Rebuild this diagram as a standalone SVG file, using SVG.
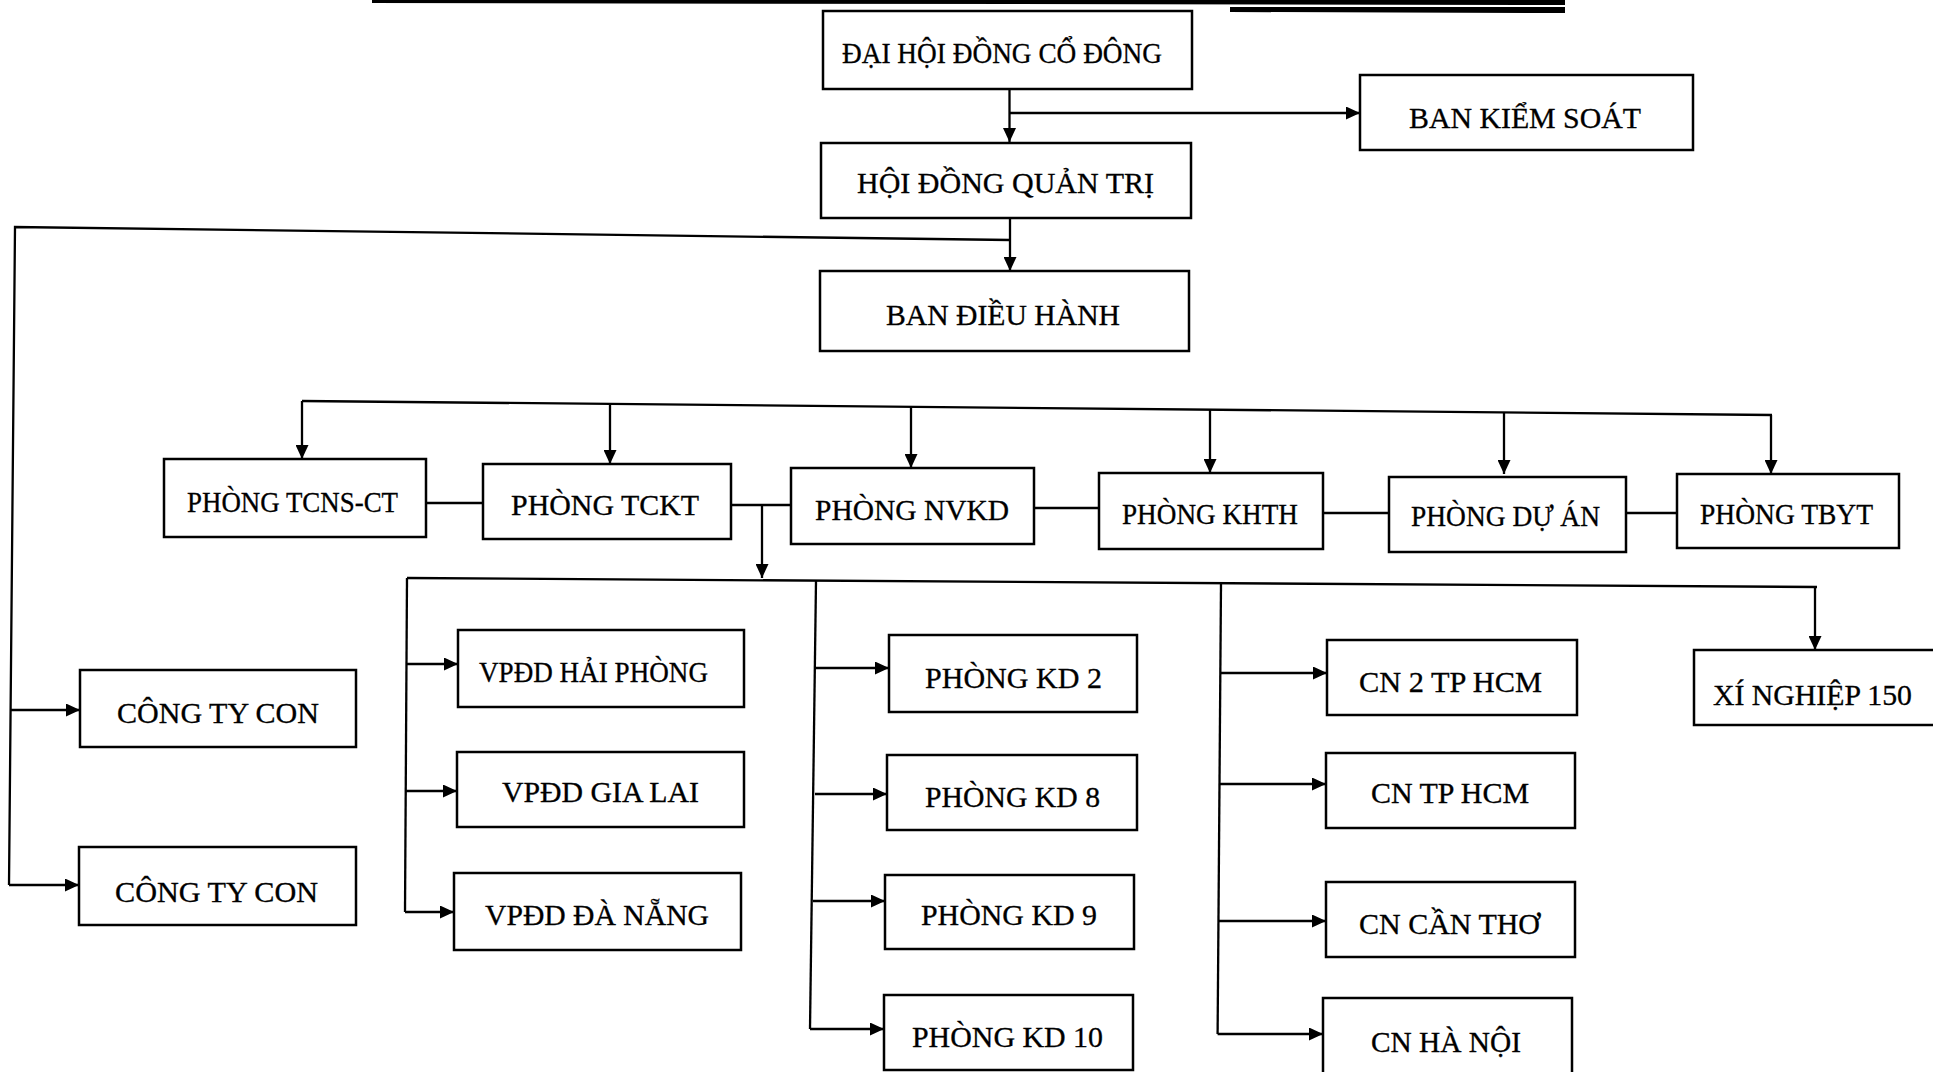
<svg xmlns="http://www.w3.org/2000/svg" width="1933" height="1072" viewBox="0 0 1933 1072">
<style>
.box{fill:#fff;stroke:#000;stroke-width:2.5}
.lbl{font-family:"Liberation Serif","DejaVu Serif",serif;font-size:29px;fill:#000;stroke:#000;stroke-width:0.3}
.big{font-size:30px}
.conn path{fill:none;stroke:#000;stroke-width:2.3}
.arr{marker-end:url(#ah)}
</style>
<defs>
<marker id="ah" viewBox="0 0 14 13" refX="14" refY="6.5" markerWidth="14" markerHeight="13" markerUnits="userSpaceOnUse" orient="auto">
<path d="M0,0 L14,6.5 L0,13 z" fill="#000"/>
</marker>
</defs>
<rect width="1933" height="1072" fill="#fff"/>
<g id="header">
<polygon points="372,0 1565,0 1565,5 372,3" fill="#000"/>
<polygon points="1230,7 1565,7 1565,13 1230,12" fill="#000"/>
</g>
<g class="conn">
<path class="arr" d="M1009.5,89 V142"/>
<path class="arr" d="M1009.5,113 H1360"/>
<path class="arr" d="M1010,218 V271"/>
<path d="M1010,240 L15,227 L9,885"/>
<path class="arr" d="M11,710 H80"/>
<path class="arr" d="M9,885 H79"/>
<path d="M302,401 L1772,415"/>
<path class="arr" d="M302,401 V459"/>
<path class="arr" d="M610,404 V464"/>
<path class="arr" d="M911,407 V468"/>
<path class="arr" d="M1210,410 V473"/>
<path class="arr" d="M1504,413 V474"/>
<path class="arr" d="M1771,415 V474"/>
<path d="M426,503 H483"/>
<path d="M731,505 H791"/>
<path d="M1034,508 H1099"/>
<path d="M1323,513 H1389"/>
<path d="M1626,513 H1677"/>
<path class="arr" d="M762,505 V578"/>
<path d="M407,578 L1817,587"/>
<path d="M407,578 L405,912"/>
<path class="arr" d="M407,664 H458"/>
<path class="arr" d="M406,791 H457"/>
<path class="arr" d="M405,912 H454"/>
<path d="M816,581 L810,1029"/>
<path class="arr" d="M816,668 H889"/>
<path class="arr" d="M815,794 H887"/>
<path class="arr" d="M813,901 H885"/>
<path class="arr" d="M810,1029 H884"/>
<path d="M1221,584 L1217.6,1034"/>
<path class="arr" d="M1221,673 H1327"/>
<path class="arr" d="M1220,784 H1326"/>
<path class="arr" d="M1219,921 H1326"/>
<path class="arr" d="M1217.6,1034 H1323"/>
<path class="arr" d="M1815,587 V650"/>
</g>
<g id="n-dhdcd"><rect class="box" x="823" y="11" width="369" height="78"/><text class="lbl big" x="842" y="63" textLength="320" lengthAdjust="spacingAndGlyphs">ĐẠI HỘI ĐỒNG CỔ ĐÔNG</text></g>
<g id="n-bks"><rect class="box" x="1360" y="75" width="333" height="75"/><text class="lbl big" x="1409" y="128" textLength="232" lengthAdjust="spacingAndGlyphs">BAN KIỂM SOÁT</text></g>
<g id="n-hdqt"><rect class="box" x="821" y="143" width="370" height="75"/><text class="lbl big" x="857" y="193" textLength="297" lengthAdjust="spacingAndGlyphs">HỘI ĐỒNG QUẢN TRỊ</text></g>
<g id="n-bdh"><rect class="box" x="820" y="271" width="369" height="80"/><text class="lbl big" x="886" y="325" textLength="234" lengthAdjust="spacingAndGlyphs">BAN ĐIỀU HÀNH</text></g>
<g id="n-tcns"><rect class="box" x="164" y="459" width="262" height="78"/><text class="lbl" x="187" y="512" textLength="211" lengthAdjust="spacingAndGlyphs">PHÒNG TCNS-CT</text></g>
<g id="n-tckt"><rect class="box" x="483" y="464" width="248" height="75"/><text class="lbl" x="511" y="515" textLength="188" lengthAdjust="spacingAndGlyphs">PHÒNG TCKT</text></g>
<g id="n-nvkd"><rect class="box" x="791" y="468" width="243" height="76"/><text class="lbl" x="815" y="520" textLength="194" lengthAdjust="spacingAndGlyphs">PHÒNG NVKD</text></g>
<g id="n-khth"><rect class="box" x="1099" y="473" width="224" height="76"/><text class="lbl" x="1122" y="524" textLength="176" lengthAdjust="spacingAndGlyphs">PHÒNG KHTH</text></g>
<g id="n-duan"><rect class="box" x="1389" y="477" width="237" height="75"/><text class="lbl" x="1411" y="526" textLength="189" lengthAdjust="spacingAndGlyphs">PHÒNG DỰ ÁN</text></g>
<g id="n-tbyt"><rect class="box" x="1677" y="474" width="222" height="74"/><text class="lbl" x="1700" y="524" textLength="173" lengthAdjust="spacingAndGlyphs">PHÒNG TBYT</text></g>
<g id="n-ctc1"><rect class="box" x="80" y="670" width="276" height="77"/><text class="lbl" x="117" y="723" textLength="202" lengthAdjust="spacingAndGlyphs">CÔNG TY CON</text></g>
<g id="n-ctc2"><rect class="box" x="79" y="847" width="277" height="78"/><text class="lbl" x="115" y="902" textLength="203" lengthAdjust="spacingAndGlyphs">CÔNG TY CON</text></g>
<g id="n-vphp"><rect class="box" x="458" y="630" width="286" height="77"/><text class="lbl" x="479" y="682" textLength="229" lengthAdjust="spacingAndGlyphs">VPĐD HẢI PHÒNG</text></g>
<g id="n-vpgl"><rect class="box" x="457" y="752" width="287" height="75"/><text class="lbl" x="502" y="802" textLength="197" lengthAdjust="spacingAndGlyphs">VPĐD GIA LAI</text></g>
<g id="n-vpdn"><rect class="box" x="454" y="873" width="287" height="77"/><text class="lbl" x="485" y="925" textLength="224" lengthAdjust="spacingAndGlyphs">VPĐD ĐÀ NẴNG</text></g>
<g id="n-kd2"><rect class="box" x="889" y="635" width="248" height="77"/><text class="lbl" x="925" y="688" textLength="177" lengthAdjust="spacingAndGlyphs">PHÒNG KD 2</text></g>
<g id="n-kd8"><rect class="box" x="887" y="755" width="250" height="75"/><text class="lbl" x="925" y="807" textLength="175" lengthAdjust="spacingAndGlyphs">PHÒNG KD 8</text></g>
<g id="n-kd9"><rect class="box" x="885" y="875" width="249" height="74"/><text class="lbl" x="921" y="925" textLength="176" lengthAdjust="spacingAndGlyphs">PHÒNG KD 9</text></g>
<g id="n-kd10"><rect class="box" x="884" y="995" width="249" height="75"/><text class="lbl" x="912" y="1047" textLength="191" lengthAdjust="spacingAndGlyphs">PHÒNG KD 10</text></g>
<g id="n-cn2"><rect class="box" x="1327" y="640" width="250" height="75"/><text class="lbl" x="1359" y="692" textLength="183" lengthAdjust="spacingAndGlyphs">CN 2 TP HCM</text></g>
<g id="n-cnhcm"><rect class="box" x="1326" y="753" width="249" height="75"/><text class="lbl" x="1371" y="803" textLength="158" lengthAdjust="spacingAndGlyphs">CN TP HCM</text></g>
<g id="n-cnct"><rect class="box" x="1326" y="882" width="249" height="75"/><text class="lbl" x="1359" y="934" textLength="181" lengthAdjust="spacingAndGlyphs">CN CẦN THƠ</text></g>
<g id="n-cnhn"><rect class="box" x="1323" y="998" width="249" height="82"/><text class="lbl" x="1371" y="1052" textLength="150" lengthAdjust="spacingAndGlyphs">CN HÀ NỘI</text></g>
<g id="n-xn150"><rect class="box" x="1694" y="650" width="250" height="75"/><text class="lbl" x="1713" y="705" textLength="199" lengthAdjust="spacingAndGlyphs">XÍ NGHIỆP 150</text></g>
</svg>
